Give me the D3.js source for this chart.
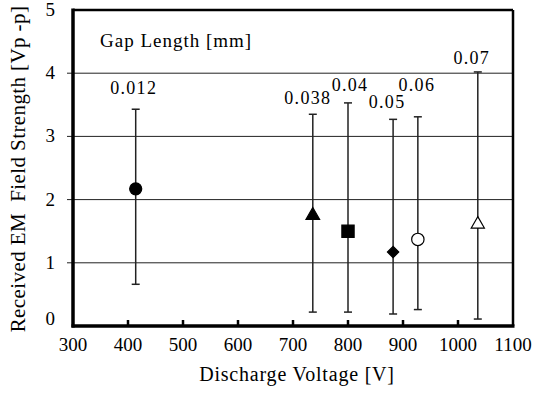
<!DOCTYPE html>
<html>
<head>
<meta charset="utf-8">
<script src="https://cdn.jsdelivr.net/npm/d3@7"></script>
<style>
  body { margin: 0; background: #fff; }
  svg text { font-family: 'Liberation Serif', 'Times New Roman', Times, serif; fill: #000; }
</style>
</head>
<body>
<div id="chart"></div>
<script>
// gap length [mm] per measurement
var gaps = ['0.012', '0.038', '0.04', '0.05', '0.06', '0.07'];
// discharge voltage [V]
var voltage = [414, 736, 800, 882, 927, 1036];
// received field strength [Vp-p]: mean, max, min
var strength = [2.17, 1.75, 1.50, 1.17, 1.37, 1.61];
var strengthMax = [3.43, 3.35, 3.53, 3.27, 3.31, 4.02];
var strengthMin = [0.66, 0.22, 0.22, 0.19, 0.26, 0.11];
var xTicks = [300, 400, 500, 600, 700, 800, 900, 1000, 1100];
var yTicks = [0, 1, 2, 3, 4, 5];

// marker look and label offsets (layout only)
var shapes = [d3.symbolCircle, d3.symbolTriangle, d3.symbolSquare, d3.symbolSquare, d3.symbolCircle, d3.symbolTriangle];
var shapeSize = [115, 80, 150, 64, 120, 75];
var shapeRot = [0, 0, 0, 45, 0, 0];
var filled = [true, true, true, true, false, false];
var labelDx = [-2, -5, 2, -6, -1, -6];
var labelDy = [-15, -10, -12, -11, -26, -8];

var width = 536, height = 393;
var margin = {left: 73, right: 23, top: 10, bottom: 67};
var w = width - margin.left - margin.right;
var h = height - margin.top - margin.bottom;

var serif = "'Liberation Serif', 'Times New Roman', Times, serif";
var svg = d3.select('#chart').append('svg').attr('width', width).attr('height', height)
  .attr('font-family', serif);
var g = svg.append('g').attr('transform', 'translate(' + margin.left + ',' + margin.top + ')');

var xscale = d3.scaleLinear().domain([300, 1100]).range([0, w]);
var yscale = d3.scaleLinear().domain([0, 5]).range([h, 0]);

// gridlines
g.selectAll('.grid').data(yTicks.filter(function(d) { return d > 0 && d < 5; }))
  .enter().append('line')
  .attr('x1', -6).attr('x2', w)
  .attr('y1', function(d) { return yscale(d); }).attr('y2', function(d) { return yscale(d); })
  .attr('stroke', '#222').attr('stroke-width', 1);

// x ticks pointing inward
g.selectAll('.xtick').data(xTicks.slice(1, -1))
  .enter().append('line')
  .attr('x1', function(d) { return xscale(d); }).attr('x2', function(d) { return xscale(d); })
  .attr('y1', h).attr('y2', h - 6)
  .attr('stroke', '#000').attr('stroke-width', 2.5);

// frame
g.append('line').attr('x1', 0).attr('x2', w).attr('y1', 0).attr('y2', 0).attr('stroke', '#000').attr('stroke-width', 2.5);
g.append('line').attr('x1', w).attr('x2', w).attr('y1', 0).attr('y2', h).attr('stroke', '#000').attr('stroke-width', 2.5);
g.append('line').attr('x1', 0).attr('x2', 0).attr('y1', -1.5).attr('y2', h + 1.5).attr('stroke', '#000').attr('stroke-width', 3.5);
g.append('line').attr('x1', -1.5).attr('x2', w + 1.5).attr('y1', h).attr('y2', h).attr('stroke', '#000').attr('stroke-width', 3.5);

// tick labels
g.selectAll('.xlab').data(xTicks).enter().append('text')
  .attr('x', function(d) { return xscale(d); }).attr('y', h + 25)
  .attr('text-anchor', 'middle').attr('font-size', 19)
  .text(function(d) { return d; });
g.selectAll('.ylab').data(yTicks).enter().append('text')
  .attr('x', -18).attr('y', function(d) { return yscale(d) + (d === 0 ? -1 : 6); })
  .attr('text-anchor', 'end').attr('font-size', 19)
  .text(function(d) { return d; });

// error bars
var pts = g.selectAll('.pt').data(gaps).enter().append('g');
pts.append('line')
  .attr('x1', function(d, i) { return xscale(voltage[i]); }).attr('x2', function(d, i) { return xscale(voltage[i]); })
  .attr('y1', function(d, i) { return yscale(strengthMax[i]); }).attr('y2', function(d, i) { return yscale(strengthMin[i]); })
  .attr('stroke', '#222').attr('stroke-width', 1.5);
[strengthMax, strengthMin].forEach(function(arr) {
  pts.append('line')
    .attr('x1', function(d, i) { return xscale(voltage[i]) - 4; }).attr('x2', function(d, i) { return xscale(voltage[i]) + 4; })
    .attr('y1', function(d, i) { return yscale(arr[i]); }).attr('y2', function(d, i) { return yscale(arr[i]); })
    .attr('stroke', '#222').attr('stroke-width', 1.5);
});

// markers
pts.append('path')
  .attr('d', function(d, i) { return d3.symbol().type(shapes[i]).size(shapeSize[i])(); })
  .attr('transform', function(d, i) { return 'translate(' + xscale(voltage[i]) + ',' + yscale(strength[i]) + ') rotate(' + shapeRot[i] + ')'; })
  .attr('fill', function(d, i) { return filled[i] ? '#000' : '#fff'; })
  .attr('stroke', '#000').attr('stroke-width', 1.2);

// gap labels
pts.append('text')
  .attr('x', function(d, i) { return xscale(voltage[i]) + labelDx[i]; })
  .attr('y', function(d, i) { return yscale(strengthMax[i]) + labelDy[i]; })
  .attr('text-anchor', 'middle').attr('font-size', 18).attr('letter-spacing', 1.3)
  .text(function(d) { return d; });

g.append('text').attr('x', 27).attr('y', 37)
  .attr('font-size', 19).attr('letter-spacing', 1)
  .text('Gap Length [mm]');

// axis titles
svg.append('text').attr('x', margin.left + w / 2 + 4).attr('y', 381)
  .attr('text-anchor', 'middle').attr('font-size', 20).attr('letter-spacing', 0.8)
  .text('Discharge Voltage [V]');
svg.append('text').attr('transform', 'translate(25,169) rotate(-90)')
  .attr('text-anchor', 'middle').attr('font-size', 21).attr('letter-spacing', 0.4).style('white-space', 'pre')
  .text('Received EM  Field Strength [Vp -p]');
</script>
</body>
</html>
